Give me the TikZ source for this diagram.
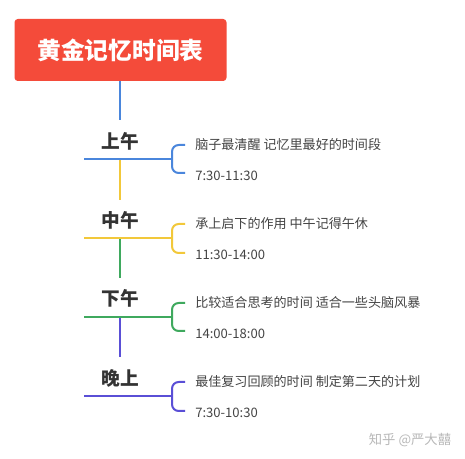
\documentclass[tikz,border=0pt]{standalone}
\usepackage{fontspec}
\setmainfont{Noto Sans CJK SC}
\definecolor{titlered}{HTML}{F44B3A}
\definecolor{cblue}{HTML}{4A86DC}
\definecolor{cyellow}{HTML}{F2C83A}
\definecolor{cgreen}{HTML}{3FA95E}
\definecolor{cpurple}{HTML}{5A4FD6}
\definecolor{labelgray}{HTML}{333333}
\definecolor{textgray}{HTML}{444444}
\tikzset{
  titlebox/.style={fill=titlered, rounded corners=2.5pt, minimum width=159pt, minimum height=46.5pt,
    inner sep=0pt, text=white, font=\fontsize{17.8pt}{20pt}\selectfont\bfseries},
  period/.style={text=labelgray, font=\fontsize{14pt}{16pt}\selectfont\bfseries, inner sep=0pt},
  desc/.style={anchor=west, text=textgray, font=\fontsize{9.8pt}{11pt}\selectfont, inner sep=0pt},
  conn/.style={line width=1.5pt},
  brace/.style={line width=1.5pt, rounded corners=5pt},
}
\begin{document}
\begin{tikzpicture}[x=0.75pt,y=-0.75pt]
\useasboundingbox (0,0) rectangle (465,459);
\fill[white] (0,0) rectangle (465,459);

\node[titlebox] (title) at (120.5,50) {黄金记忆时间表};

% section labels
\node[period] (l1) at (120,141) {上午};
\node[period] (l2) at (120,220) {中午};
\node[period] (l3) at (120,298) {下午};
\node[period] (l4) at (120,378) {晚上};

% horizontal lines: start / junction coordinates
\coordinate (h1a) at (84,159);  \coordinate (h1b) at (172,159);
\coordinate (h2a) at (84,238);  \coordinate (h2b) at (172,238);
\coordinate (h3a) at (84,317);  \coordinate (h3b) at (172,317);
\coordinate (h4a) at (84,396);  \coordinate (h4b) at (172,396);

% vertical connector ends
\coordinate (v1t) at (120,81);  \coordinate (v1b) at (120,120);
\coordinate (v2t) at (120,159); \coordinate (v2b) at (120,200);
\coordinate (v3t) at (120,238); \coordinate (v3b) at (120,278);
\coordinate (v4t) at (120,317); \coordinate (v4b) at (120,357);

\draw[conn, cblue] (v1t) -- (v1b);
\draw[conn, cyellow] (v2t) -- (v2b);
\draw[conn, cgreen] (v3t) -- (v3b);
\draw[conn, cpurple] (v4t) -- (v4b);

\draw[conn, cblue] (h1a) -- (h1b);
\draw[conn, cyellow] (h2a) -- (h2b);
\draw[conn, cgreen] (h3a) -- (h3b);
\draw[conn, cpurple] (h4a) -- (h4b);

% descriptions
\node[desc] (t1a) at (195,145) {脑子最清醒 记忆里最好的时间段};
\node[desc] (t1b) at (195,176) {7:30-11:30};
\node[desc] (t2a) at (195,224) {承上启下的作用 中午记得午休};
\node[desc] (t2b) at (195,255) {11:30-14:00};
\node[desc] (t3a) at (195,303) {比较适合思考的时间 适合一些头脑风暴};
\node[desc] (t3b) at (195,334) {14:00-18:00};
\node[desc] (t4a) at (195,382) {最佳复习回顾的时间 制定第二天的计划};
\node[desc] (t4b) at (195,413) {7:30-10:30};

% braces
\draw[brace, cblue] (185,145) -- (172,145) -- (172,173) -- (185,173);
\draw[brace, cyellow] (185,224) -- (172,224) -- (172,253) -- (185,253);
\draw[brace, cgreen] (185,303) -- (172,303) -- (172,331) -- (185,331);
\draw[brace, cpurple] (185,382) -- (172,382) -- (172,411) -- (185,411);

% watermark
\node[text=black!28, font=\fontsize{10pt}{12pt}\selectfont, inner sep=0pt] (wm) at (410,440) {知乎 @严大囍};
\end{tikzpicture}
\end{document}
